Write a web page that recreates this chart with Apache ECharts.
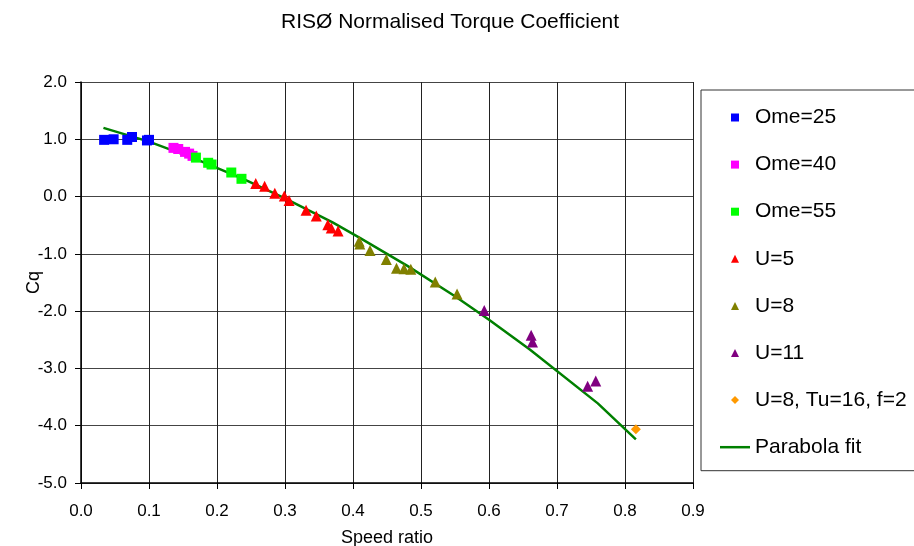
<!DOCTYPE html>
<html>
<head>
<meta charset="utf-8">
<script src="https://cdn.jsdelivr.net/npm/echarts@6/dist/echarts.min.js"></script>
<style>
  html, body { margin: 0; padding: 0; background: #fff; }
  #chart { width: 914px; height: 546px; }
</style>
</head>
<body>
<div id="chart"></div>
<script>
// ---- data ----
var ome25X = [0.034, 0.048, 0.068, 0.075, 0.097, 0.100];
var ome25Y = [0.99, 1.00, 0.99, 1.04, 0.98, 0.99];

var ome40X = [0.136, 0.143, 0.153, 0.159, 0.164];
var ome40Y = [0.85, 0.83, 0.78, 0.75, 0.71];

var ome55X = [0.169, 0.187, 0.192, 0.221, 0.236];
var ome55Y = [0.68, 0.59, 0.56, 0.42, 0.31];

var u5X = [0.257, 0.270, 0.285, 0.299, 0.306, 0.331, 0.346, 0.363, 0.368, 0.378];
var u5Y = [0.23, 0.18, 0.06, 0.01, -0.07, -0.24, -0.34, -0.49, -0.55, -0.60];

var u8X = [0.409, 0.410, 0.425, 0.449, 0.464, 0.475, 0.485, 0.521, 0.553];
var u8Y = [-0.78, -0.83, -0.94, -1.10, -1.25, -1.26, -1.27, -1.49, -1.70];

var u11X = [0.593, 0.662, 0.664, 0.745, 0.757];
var u11Y = [-1.99, -2.42, -2.54, -3.31, -3.22];

var tuX = [0.816];
var tuY = [-4.06];

var fitX = [0.033, 0.100, 0.170, 0.240, 0.300, 0.370, 0.410, 0.480, 0.550, 0.600, 0.660, 0.760, 0.816];
var fitY = [1.20, 0.96, 0.65, 0.30, -0.03, -0.45, -0.72, -1.21, -1.74, -2.15, -2.67, -3.61, -4.24];

var seriesNames = ['Ome=25', 'Ome=40', 'Ome=55', 'U=5', 'U=8', 'U=11', 'U=8, Tu=16, f=2', 'Parabola fit'];

var xTicks = [0, 0.1, 0.2, 0.3, 0.4, 0.5, 0.6, 0.7, 0.8, 0.9];
var yTicks = [-5, -4, -3, -2, -1, 0, 1, 2];

function pairs(xs, ys) {
  return xs.map(function (x, i) { return [x, ys[i]]; });
}

var FONT = '"Liberation Sans", Arial, sans-serif';

var ICON_SQUARE = 'path://M0,0H10V10H0Z';
var ICON_TRI = 'path://M5,0L10,10H0Z';
var ICON_DIAMOND = 'path://M5,0L10,5L5,10L0,5Z';
var ICON_LINE = 'path://M0,0H30V2.5H0Z';

function scatter(name, xs, ys, symbol, size, color) {
  return {
    name: name,
    type: 'scatter',
    data: pairs(xs, ys),
    symbol: symbol,
    symbolSize: size,
    itemStyle: { color: color, opacity: 1 },
    z: 3
  };
}

var chart = echarts.init(document.getElementById('chart'), null, { renderer: 'canvas' });

var legendIcons = [ICON_SQUARE, ICON_SQUARE, ICON_SQUARE, ICON_TRI, ICON_TRI, ICON_TRI, ICON_DIAMOND, ICON_LINE];

chart.setOption({
  animation: false,
  backgroundColor: '#ffffff',
  textStyle: { fontFamily: FONT },
  title: {
    text: 'RISØ Normalised Torque Coefficient',
    left: 281,
    top: 12,
    padding: 0,
    textStyle: { fontFamily: FONT, fontSize: 21, fontWeight: 'normal', color: '#000' }
  },
  grid: { left: 81, right: 221, top: 82, bottom: 63, containLabel: false, outerBoundsMode: 'none' },
  xAxis: {
    type: 'value',
    min: xTicks[0],
    max: xTicks[xTicks.length - 1],
    interval: 0.1,
    name: 'Speed ratio',
    nameLocation: 'middle',
    nameGap: 46,
    nameMoveOverlap: false,
    nameTextStyle: { fontFamily: FONT, fontSize: 18, color: '#000' },
    axisLine: { show: true, onZero: false, lineStyle: { color: '#000', width: 1.5 } },
    axisTick: { show: true, length: 6, lineStyle: { color: '#000' } },
    axisLabel: {
      margin: 20, fontFamily: FONT, fontSize: 17, color: '#000',
      formatter: function (v) { return v.toFixed(1); }
    },
    splitLine: { show: true, lineStyle: { color: '#222', width: 1 } }
  },
  yAxis: {
    type: 'value',
    min: yTicks[0],
    max: yTicks[yTicks.length - 1],
    interval: 1,
    name: 'Cq',
    nameLocation: 'middle',
    nameGap: 38,
    nameRotate: 90,
    nameMoveOverlap: false,
    nameTextStyle: { fontFamily: FONT, fontSize: 18, color: '#000' },
    axisLine: { show: true, onZero: false, lineStyle: { color: '#000', width: 1.5 } },
    axisTick: { show: true, length: 6, lineStyle: { color: '#000' } },
    axisLabel: {
      margin: 14, fontFamily: FONT, fontSize: 17, color: '#000',
      formatter: function (v) { return v.toFixed(1); }
    },
    splitLine: { show: true, lineStyle: { color: '#444', width: 1 } }
  },
  legend: {
    orient: 'vertical',
    left: 701,
    top: 90,
    padding: [17, 60, 13, 19],
    itemWidth: 30,
    itemHeight: 8,
    itemGap: 26.1,
    borderColor: '#333',
    borderWidth: 1,
    backgroundColor: '#fff',
    textStyle: { fontFamily: FONT, fontSize: 21, color: '#000' },
    data: seriesNames.map(function (n, i) { return { name: n, icon: legendIcons[i] }; })
  },
  series: [
    scatter(seriesNames[0], ome25X, ome25Y, 'rect', 10, '#0000FF'),
    scatter(seriesNames[1], ome40X, ome40Y, 'rect', 10, '#FF00FF'),
    scatter(seriesNames[2], ome55X, ome55Y, 'rect', 10, '#00FF00'),
    scatter(seriesNames[3], u5X, u5Y, 'triangle', 11, '#FF0000'),
    scatter(seriesNames[4], u8X, u8Y, 'triangle', 11, '#808000'),
    scatter(seriesNames[5], u11X, u11Y, 'triangle', 11, '#800080'),
    scatter(seriesNames[6], tuX, tuY, 'diamond', 10, '#FF9900'),
    {
      name: seriesNames[7],
      type: 'line',
      data: pairs(fitX, fitY),
      showSymbol: false,
      symbol: 'none',
      lineStyle: { color: '#008000', width: 2.5 },
      itemStyle: { color: '#008000' },
      z: 2
    }
  ]
});
</script>
</body>
</html>
